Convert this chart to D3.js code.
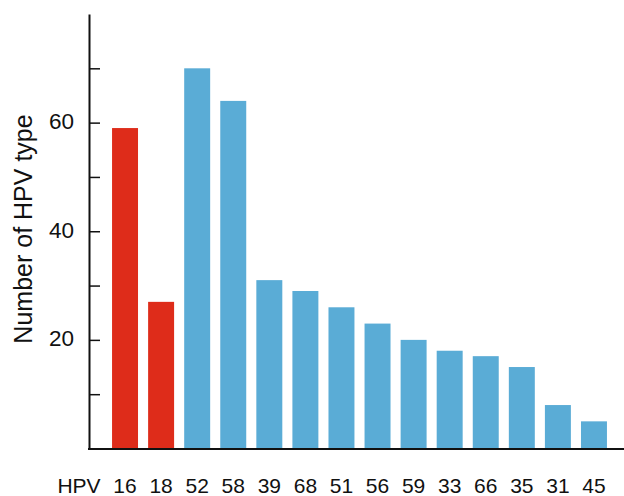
<!DOCTYPE html>
<html>
<head>
<meta charset="utf-8">
<script src="https://cdn.jsdelivr.net/npm/d3@7"></script>
<style>
body { margin: 0; background: #fff; }
text { font-family: "Liberation Sans", Arial, sans-serif; fill: #111; }
</style>
</head>
<body>
<div id="chart"></div>
<script>
// HPV types and counts
var types = ['16', '18', '52', '58', '39', '68', '51', '56', '59', '33', '66', '35', '31', '45']
var counts = [59, 27, 70, 64, 31, 29, 26, 23, 20, 18, 17, 15, 8, 5]
var highRisk = ['16', '18']
var yTicks = [10, 20, 30, 40, 50, 60, 70]
var yLabels = [20, 40, 60]

var W = 624, H = 496
var axisX = 89, axisTop = 14, axisBottom = 448.5

var svg = d3.select('#chart').append('svg').attr('width', W).attr('height', H)

var x = d3.scaleBand().domain(types).range([107, 612]).paddingInner(0.28).paddingOuter(0.14)
var y = d3.scaleLinear().domain([0, 80]).range([axisBottom, axisTop])

var data = types.map(function(t, i) { return {type: t, n: counts[i]} })

svg.selectAll('rect.bar').data(data).enter()
	.append('rect')
	.attr('class', 'bar')
	.attr('x', function(d) { return x(d.type) })
	.attr('width', x.bandwidth())
	.attr('y', function(d) { return y(d.n) })
	.attr('height', function(d) { return y(0) - y(d.n) })
	.attr('fill', function(d) { return highRisk.indexOf(d.type) >= 0 ? '#de2c1a' : '#5aacd6' })

// y axis, ticks pointing inward
var yAxis = d3.axisLeft(y)
	.tickValues(yTicks)
	.tickSizeInner(-11)
	.tickSizeOuter(0)
	.tickPadding(15)
	.tickFormat(function(d) { return yLabels.indexOf(d) >= 0 ? d : '' })

var gy = svg.append('g').attr('transform', 'translate(' + axisX + ',0)').call(yAxis)
gy.select('.domain').attr('stroke', '#111').attr('stroke-width', 2)
gy.selectAll('.tick line').attr('stroke', '#111').attr('stroke-width', 1.5)
gy.selectAll('.tick text')
	.attr('font-size', 22.5)
	.attr('font-family', '"Liberation Sans", Arial, sans-serif')
	.attr('fill', '#111')
	.attr('dy', 6)

// baseline
svg.append('line')
	.attr('x1', axisX - 1).attr('x2', W)
	.attr('y1', y(0) + 0.5).attr('y2', y(0) + 0.5)
	.attr('stroke', '#111').attr('stroke-width', 2)

// x labels
var gx = svg.append('g')
gx.selectAll('text').data(types).enter()
	.append('text')
	.attr('x', function(d) { return x(d) + x.bandwidth() / 2 })
	.attr('y', 493)
	.attr('text-anchor', 'middle')
	.attr('font-size', 21)
	.text(function(d) { return d })

gx.append('text')
	.attr('x', 79)
	.attr('y', 493)
	.attr('text-anchor', 'middle')
	.attr('font-size', 21)
	.text('HPV')

// y title
svg.append('text')
	.attr('transform', 'translate(32,229) rotate(-90)')
	.attr('text-anchor', 'middle')
	.attr('font-size', 25)
	.text('Number of HPV type')
</script>
</body>
</html>
